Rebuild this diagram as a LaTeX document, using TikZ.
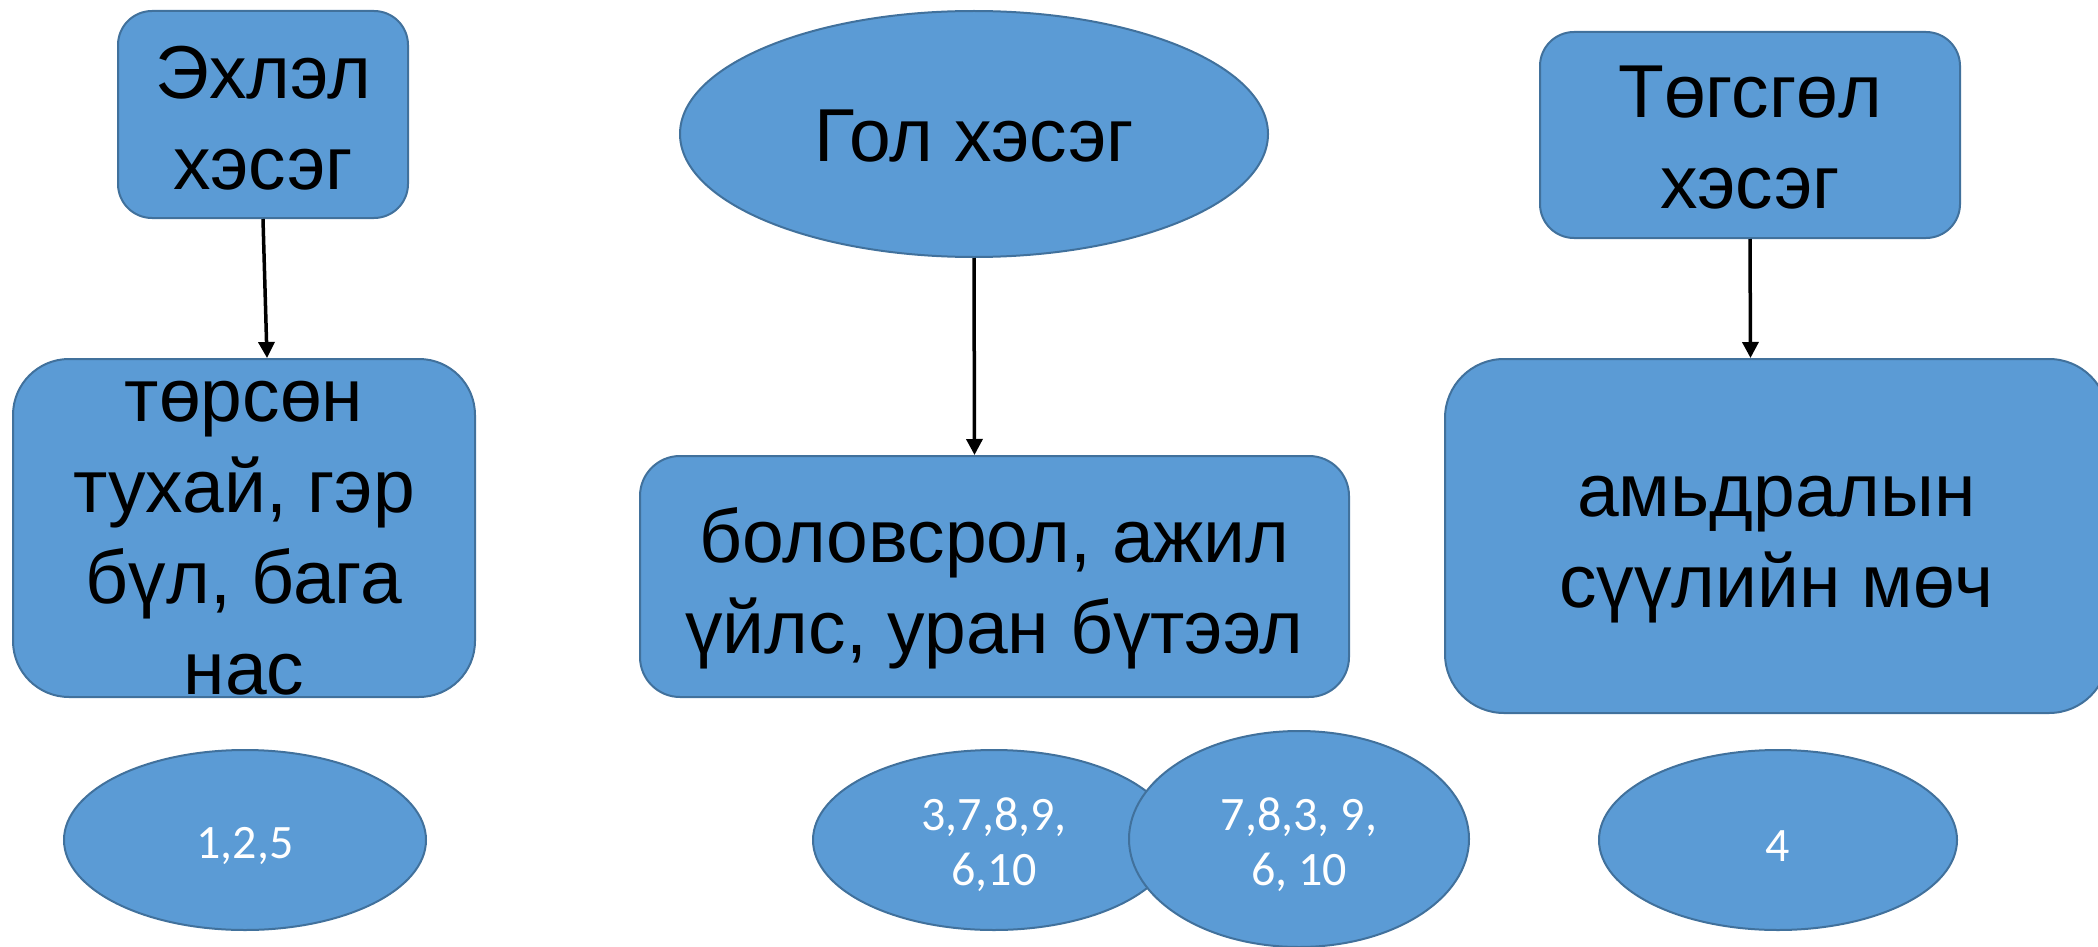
\documentclass[tikz,border=0pt]{standalone}
\usepackage{fontspec}
\setmainfont{Liberation Sans}
\newfontfamily\numfont{Carlito}
\usetikzlibrary{shapes.geometric,arrows.meta}
\definecolor{boxfill}{HTML}{5B9BD5}
\definecolor{boxline}{HTML}{41719C}
\tikzset{
  shapebox/.style={draw=boxline, fill=boxfill, line width=2pt, inner sep=0pt},
  rbox/.style={shapebox, rectangle},
  oval/.style={shapebox, ellipse},
  bigtxt/.style={align=center, text=black, inner sep=0pt, font=\fontsize{75}{91}\selectfont},
  numtxt/.style={align=center, text=white, inner sep=0pt, font=\numfont\fontsize{48}{55}\selectfont},
  conn/.style={draw=black, line width=3.5pt, -{Triangle[width=16pt,length=16pt]}}
}
\begin{document}
\begin{tikzpicture}[x=1pt,y=-1pt]
\useasboundingbox (0,0) rectangle (2098,947);
\clip (0,0) rectangle (2098,947);
% top row
\node[rbox, rounded corners=34pt, minimum width=290pt, minimum height=207pt] (e1) at (263,114.5) {};
\node[bigtxt] (e1t) at (263,118) {Эхлэл\\хэсэг};
\node[oval, minimum width=588pt, minimum height=246pt] (g) at (974,134) {};
\node[bigtxt] (gt) at (974,136) {Гол хэсэг};
\node[rbox, rounded corners=34pt, minimum width=420pt, minimum height=206pt] (t) at (1750,135) {};
\node[bigtxt] (tt) at (1750,138) {Төгсгөл\\хэсэг};
% middle row
\node[rbox, rounded corners=56pt, minimum width=462pt, minimum height=338pt] (b1) at (244,528) {};
\node[bigtxt] (b1t) at (244,538) {төрсөн\\тухай, гэр\\бүл, бага\\нас};
\node[rbox, rounded corners=40pt, minimum width=709pt, minimum height=241pt] (b2) at (994.5,576.5) {};
\node[bigtxt] (b2t) at (994.5,588) {боловсрол, ажил\\үйлс, уран бүтээл};
\node[rbox, rounded corners=59pt, minimum width=663pt, minimum height=354pt] (b3) at (1776.5,536) {};
\node[bigtxt] (b3t) at (1776.5,550) {амьдралын\\сүүлийн мөч};
% bottom row
\node[oval, minimum width=362pt, minimum height=180pt] (n1) at (245,840) {};
\node[numtxt] (n1t) at (245,846) {1,2,5};
\node[oval, minimum width=362pt, minimum height=180pt] (n2) at (994,840) {};
\node[numtxt] (n2t) at (994,845) {3,7,8,9,\\6,10};
\node[oval, minimum width=340pt, minimum height=216pt] (n3) at (1299,839) {};
\node[numtxt] (n3t) at (1299,845) {7,8,3, 9,\\6, 10};
\node[oval, minimum width=358pt, minimum height=180pt] (n4) at (1778,840) {};
\node[numtxt] (n4t) at (1778,846) {4};
% connectors
\draw[conn] (e1.south) -- ([xshift=23pt]b1.north);
\draw[conn] (g.south) -- ([xshift=-20pt]b2.north);
\draw[conn] (t.south) -- ([xshift=-26pt]b3.north);
\end{tikzpicture}
\end{document}
